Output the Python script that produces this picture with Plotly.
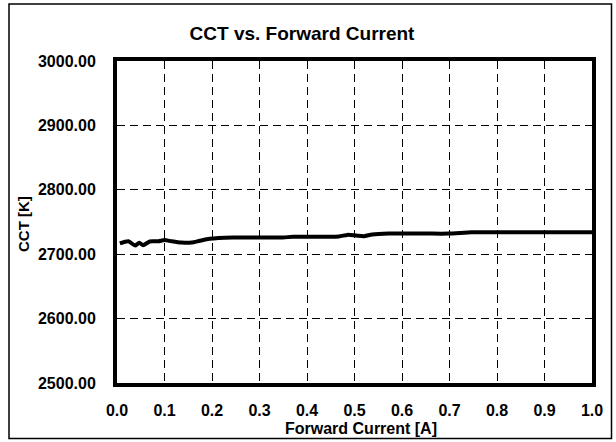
import plotly.graph_objects as go

# Data
current_a = [0.006, 0.024, 0.038, 0.047, 0.055, 0.069, 0.087, 0.10, 0.115, 0.136,
             0.157, 0.174, 0.195, 0.244, 0.30, 0.349, 0.37, 0.398, 0.467, 0.485,
             0.503, 0.52, 0.537, 0.572, 0.65, 0.698, 0.747, 0.80, 0.90, 1.0]
cct_k = [2716.7, 2720.0, 2713.5, 2717.7, 2714.0, 2719.8, 2720.0, 2721.9, 2720.0, 2718.0,
         2718.0, 2720.8, 2724.0, 2726.0, 2726.0, 2726.0, 2727.0, 2727.0, 2727.6, 2730.0,
         2729.0, 2728.0, 2730.5, 2732.0, 2732.0, 2732.0, 2734.0, 2734.0, 2734.0, 2734.0]

title_text = "CCT vs. Forward Current"
x_title = "Forward Current [A]"
y_title = "CCT [K]"

font_family = "Liberation Sans, Arial, sans-serif"

fig = go.Figure()
fig.add_trace(go.Scatter(
    x=current_a, y=cct_k, mode="lines",
    line=dict(color="black", width=4, shape="spline", smoothing=0.6),
    showlegend=False, hoverinfo="skip",
))

W, H = 616, 442
ml, mr, mt, mb = 117, 24, 61, 59
pw, ph = W - ml - mr, H - mt - mb

def px_x(px):
    return (px - ml) / pw

def px_y(py):
    return 1 - (py - mt) / ph

fig.update_layout(
    width=W, height=H,
    margin=dict(l=ml, r=mr, t=mt, b=mb, autoexpand=False),
    paper_bgcolor="white", plot_bgcolor="white",
    font=dict(family=font_family, color="black"),
    title=dict(text="<b>" + title_text + "</b>", x=302 / W, xanchor="center",
               y=1 - 33 / H, yanchor="middle", font=dict(size=19, color="black")),
)

fig.update_xaxes(
    range=[0, 1], dtick=0.1, tick0=0, tickformat=".1f",
    showgrid=True, gridcolor="black", gridwidth=1, griddash="8px,5px",
    showline=True, linecolor="black", linewidth=4, mirror=True,
    ticks="", ticklabelstandoff=10, automargin=False,
    tickfont=dict(size=16, family=font_family, color="black", weight="bold"),
    zeroline=False,
)
fig.update_yaxes(
    range=[2500, 3000], dtick=100, tick0=2500, tickformat=".2f",
    showgrid=True, gridcolor="black", gridwidth=1, griddash="8px,5px",
    showline=True, linecolor="black", linewidth=4, mirror=True,
    ticks="", ticklabelstandoff=14, automargin=False,
    tickfont=dict(size=16, family=font_family, color="black", weight="bold"),
    zeroline=False,
)

# Axis titles as annotations
fig.add_annotation(text="<b>" + x_title + "</b>", xref="paper", yref="paper",
                   x=px_x(361), y=px_y(428), xanchor="center", yanchor="middle",
                   showarrow=False, font=dict(size=16, color="black"))
fig.add_annotation(text="<b>" + y_title + "</b>", xref="paper", yref="paper",
                   x=px_x(23), y=px_y(224), xanchor="center", yanchor="middle",
                   textangle=-90, showarrow=False, font=dict(size=15, color="black"))

# Outer chart border
bx0, bx1, by0, by1 = 9, 611.5, 4, 438.5
fig.add_shape(type="rect", xref="paper", yref="paper",
              x0=px_x(bx0), x1=px_x(bx1), y0=px_y(by1), y1=px_y(by0),
              line=dict(color="black", width=1.5), layer="above")

fig.write_html("out.html", config={"displayModeBar": False},
               post_script="document.body.style.margin='0';")
